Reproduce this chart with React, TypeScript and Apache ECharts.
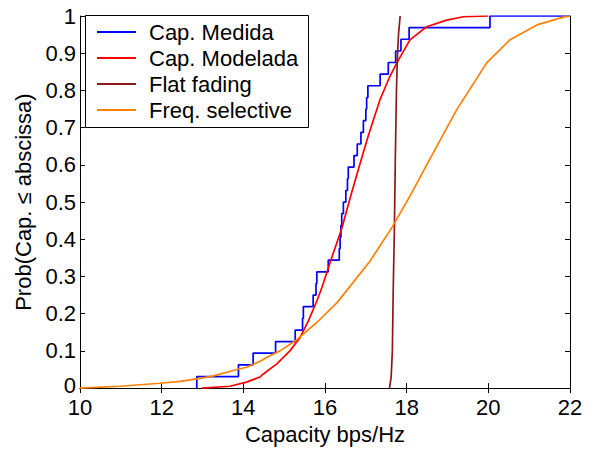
import React, { useEffect, useRef } from "react";
import * as echarts from "echarts";

const xTicks = { min: 10, max: 22, interval: 2 };
const yTicks = { min: 0, max: 1, interval: 0.1 };

const seriesNames = ["Cap. Medida", "Cap. Modelada", "Flat fading", "Freq. selective"];
const seriesColors = ["#0000ff", "#ff0000", "#8b1a1a", "#ff8000"];

// Empirical CDF of measured capacity (jump position, value after jump)
const medidaX = [12.86, 12.86, 13.88, 14.24, 14.79, 15.27, 15.45, 15.47, 15.71, 15.78, 15.8, 16.08, 16.35, 16.37, 16.39, 16.41, 16.45, 16.51, 16.55, 16.57, 16.71, 16.79, 16.88, 16.94, 17.0, 17.02, 17.05, 17.35, 17.55, 17.73, 17.86, 18.06, 20.04, 22];
const medidaY = [0, 0.031, 0.0625, 0.094, 0.125, 0.156, 0.1875, 0.219, 0.25, 0.281, 0.3125, 0.344, 0.375, 0.406, 0.4375, 0.469, 0.5, 0.531, 0.5625, 0.594, 0.625, 0.656, 0.6875, 0.719, 0.75, 0.781, 0.8125, 0.844, 0.875, 0.906, 0.9375, 0.969, 1.0, 1.0];

const modeladaX = [12.98, 13.67, 14.08, 14.41, 14.49, 14.82, 15.14, 15.39, 15.59, 15.8, 15.92, 16.16, 16.41, 16.61, 16.85, 17.06, 17.35, 17.59, 17.76, 18.08, 18.49, 18.98, 19.39, 20.0];
const modeladaY = [0, 0.005, 0.016, 0.03, 0.038, 0.065, 0.1, 0.136, 0.18, 0.234, 0.269, 0.349, 0.429, 0.509, 0.6, 0.678, 0.776, 0.838, 0.874, 0.936, 0.971, 0.989, 0.998, 1.0];

const flatX = [17.58, 17.62, 17.65, 17.67, 17.7, 17.72, 17.75, 17.77, 17.8, 17.84];
const flatY = [0, 0.03, 0.1, 0.26, 0.43, 0.6, 0.8, 0.88, 0.95, 1.0];

const freqX = [10, 10.98, 11.96, 12.45, 12.94, 13.27, 13.84, 14.08, 14.41, 14.65, 14.9, 15.31, 15.47, 15.88, 16.29, 17.1, 17.63, 18.1, 18.57, 19.23, 19.96, 20.53, 21.19, 21.84, 22];
const freqY = [0, 0.005, 0.013, 0.018, 0.026, 0.033, 0.05, 0.056, 0.072, 0.087, 0.1, 0.13, 0.145, 0.185, 0.229, 0.341, 0.43, 0.52, 0.616, 0.749, 0.874, 0.936, 0.976, 0.997, 1.0];

const xName = "Capacity bps/Hz";
const yName = "Prob(Cap. \u2264 abscissa)";

const zip = (xs: number[], ys: number[]) => xs.map((x, i) => [x, ys[i]]);

export default function App() {
  const ref = useRef<HTMLDivElement>(null);
  useEffect(() => {
    if (!ref.current) return;
    const chart = echarts.init(ref.current, null, { renderer: "svg" });
    const font = "Liberation Sans, Arial, Helvetica, sans-serif";
    const fs = 22;
    const axisCommon = {
      axisLine: { show: true, lineStyle: { color: "#000", width: 1 } },
      axisTick: { show: true, inside: true, length: 5, lineStyle: { color: "#000" } },
      splitLine: { show: false },
    };
    const lineSeries = (i: number, data: number[][], extra: any = {}) => ({
      name: seriesNames[i],
      type: "line",
      data,
      showSymbol: false,
      symbol: "none",
      lineStyle: { color: seriesColors[i], width: 1.7 },
      itemStyle: { color: seriesColors[i] },
      xAxisIndex: 0,
      yAxisIndex: 0,
      clip: true,
      z: 2,
      ...extra,
    });
    chart.setOption({
      animation: false,
      backgroundColor: "#fff",
      textStyle: { fontFamily: font },
      grid: { left: 80, right: 25, top: 16, bottom: 59, containLabel: false },
      xAxis: [
        {
          type: "value",
          ...xTicks,
          position: "bottom",
          ...axisCommon,
          axisLabel: { color: "#000", fontSize: fs, lineHeight: 16, margin: 11, fontFamily: font },
          name: xName,
          nameLocation: "middle",
          nameGap: 33,
          nameTextStyle: { color: "#000", fontSize: fs, fontFamily: font },
        },
        {
          type: "value",
          ...xTicks,
          position: "top",
          ...axisCommon,
          axisLabel: { show: false },
        },
      ],
      yAxis: [
        {
          type: "value",
          ...yTicks,
          position: "left",
          ...axisCommon,
          axisLabel: {
            color: "#000",
            fontSize: fs,
            lineHeight: 16,
            margin: 4,
            fontFamily: font,
            formatter: (v: number) => (v === 0 ? "{z|0}" : String(v)),
            rich: { z: { color: "#000", fontSize: fs, lineHeight: 16, fontFamily: font, padding: [0, 0, 5, 0] } },
          },
          name: yName,
          nameLocation: "middle",
          nameGap: 44,
          nameTextStyle: { color: "#000", fontSize: fs, fontFamily: font },
        },
        {
          type: "value",
          ...yTicks,
          position: "right",
          ...axisCommon,
          axisLabel: { show: false },
        },
      ],
      legend: {
        show: true,
        orient: "vertical",
        left: 97,
        top: 19,
        padding: 0,
        itemGap: 0,
        itemWidth: 39,
        itemHeight: 2,
        icon: "rect",
        data: seriesNames,
        textStyle: { color: "#000", fontSize: fs, lineHeight: 26, padding: [0, 0, 0, 8], fontFamily: font },
        z: 5,
      },
      graphic: [
        {
          type: "rect",
          z: 4,
          shape: { x: 85.5, y: 15.5, width: 223, height: 112 },
          style: { fill: "#fff", stroke: "#000", lineWidth: 1 },
        },
      ],
      series: [
        lineSeries(0, zip(medidaX, medidaY), { step: "end" }),
        lineSeries(1, zip(modeladaX, modeladaY)),
        lineSeries(2, zip(flatX, flatY)),
        lineSeries(3, zip(freqX, freqY)),
      ],
    });
    return () => chart.dispose();
  }, []);
  return <div ref={ref} style={{ position: "fixed", left: 0, top: 0, width: 595, height: 450 }} />;
}
